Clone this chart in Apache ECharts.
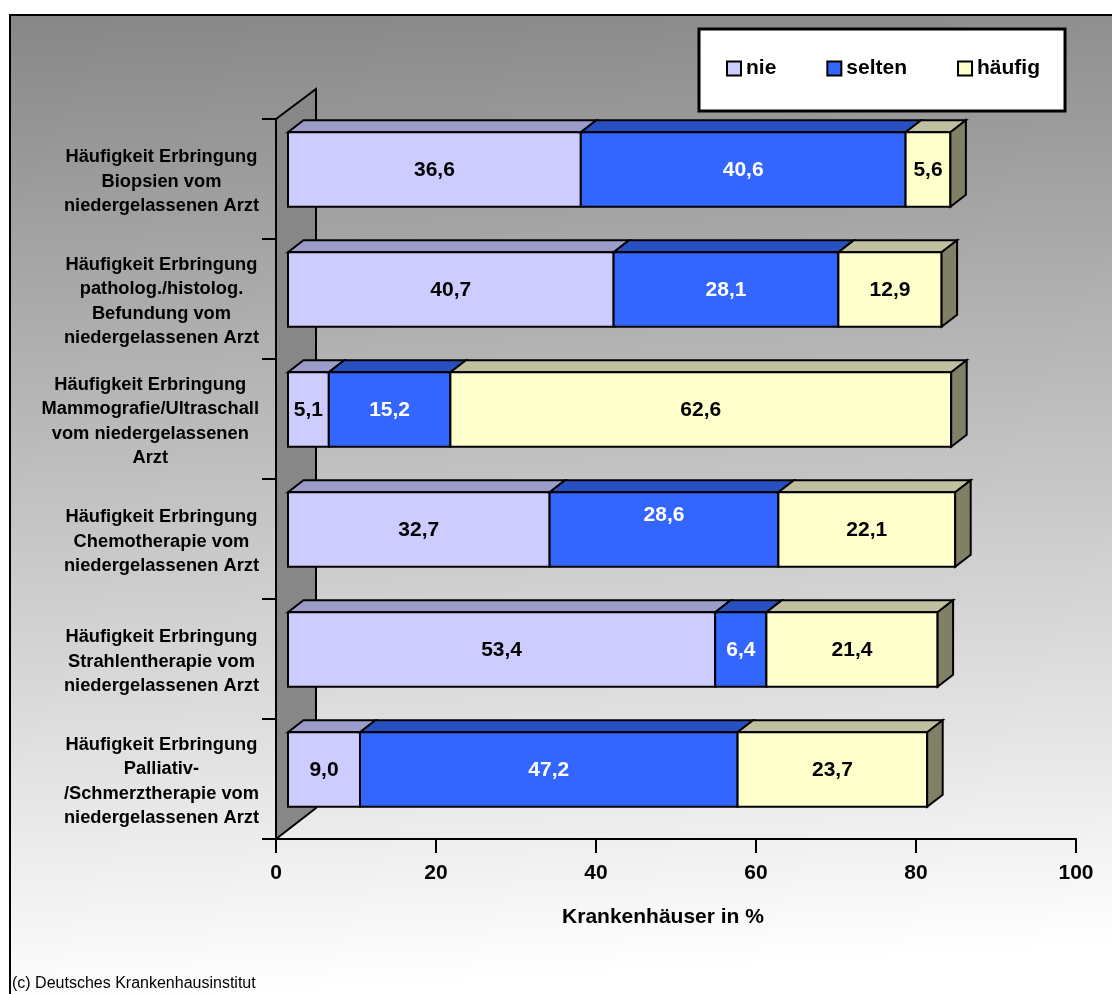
<!DOCTYPE html>
<html><head><meta charset="utf-8">
<script src="https://cdn.jsdelivr.net/npm/echarts@6/dist/echarts.min.js"></script>
<style>html,body{margin:0;padding:0;background:#fff;overflow:hidden}#c{width:1112px;height:994px}</style>
</head><body><div id="c"></div>
<script>
// ---- data ----
const categories = [
  'Häufigkeit Erbringung\nBiopsien vom\nniedergelassenen Arzt',
  'Häufigkeit Erbringung\npatholog./histolog.\nBefundung vom\nniedergelassenen Arzt',
  'Häufigkeit Erbringung\nMammografie/Ultraschall\nvom niedergelassenen\nArzt',
  'Häufigkeit Erbringung\nChemotherapie vom\nniedergelassenen Arzt',
  'Häufigkeit Erbringung\nStrahlentherapie vom\nniedergelassenen Arzt',
  'Häufigkeit Erbringung\nPalliativ-\n/Schmerztherapie vom\nniedergelassenen Arzt'
];
const seriesNames = ['nie', 'selten', 'häufig'];
const nie     = [36.6, 40.7, 5.1, 32.7, 53.4, 9.0];
const selten  = [40.6, 28.1, 15.2, 28.6, 6.4, 47.2];
const haeufig = [5.6, 12.9, 62.6, 22.1, 21.4, 23.7];
const xTickValues = [0, 20, 40, 60, 80, 100];
const axisTitle = 'Krankenhäuser in %';
const footer = '(c) Deutsches Krankenhausinstitut';

// ---- styling ----
const FONT = '"Liberation Sans", Arial, Helvetica, sans-serif';
const DX = 15.5, DY = -12;
const palette = [
  { front: '#CCCCFF', top: '#9C9CC8', side: '#666699', label: '#000000' },
  { front: '#3366FF', top: '#2850C0', side: '#1A3380', label: '#FFFFFF' },
  { front: '#FFFFCC', top: '#C0C0A0', side: '#808066', label: '#000000' }
];
const labelShift = { 1: { 3: -15 } }; // series index -> category index -> dy

const values = [nie, selten, haeufig];
function seriesData(k) {
  return values[k].map((v, i) => {
    let start = 0;
    for (let j = 0; j < k; j++) start += values[j][i];
    return [start, start + v, i, v];
  });
}

const Y_FONT = 'bold 18.3px ' + FONT;
const mctx = document.createElement('canvas').getContext('2d');
mctx.font = Y_FONT;

function barRender(k) {
  const col = palette[k];
  const isLast = k === values.length - 1;
  return function (params, api) {
    const s = api.value(0), e = api.value(1), c = api.value(2), v = api.value(3);
    const a = api.coord([s, c]), b = api.coord([e, c]);
    const bh = api.size([0, 1])[1] * 0.62;
    const yT = a[1] - bh / 2, yB = yT + bh;
    const x0 = a[0], x1 = b[0];
    const st = { stroke: '#000', lineWidth: 2, lineJoin: 'miter' };
    const children = [
      { type: 'polygon', shape: { points: [[x0, yT], [x0 + DX, yT + DY], [x1 + DX, yT + DY], [x1, yT]] },
        style: Object.assign({ fill: col.top }, st) },
      { type: 'rect', shape: { x: x0, y: yT, width: x1 - x0, height: bh },
        style: Object.assign({ fill: col.front }, st) }
    ];
    if (isLast) {
      children.push({ type: 'polygon', shape: { points: [[x1, yT], [x1 + DX, yT + DY], [x1 + DX, yB + DY], [x1, yB]] },
        style: Object.assign({ fill: col.side }, st) });
    }
    const sh = (labelShift[k] && labelShift[k][c]) || 0;
    children.push({ type: 'text', z2: 10, style: {
      text: v.toFixed(1).replace('.', ','), x: (x0 + x1) / 2, y: (yT + yB) / 2 + sh + 1,
      align: 'center', verticalAlign: 'middle', font: 'bold 21px ' + FONT, fill: col.label } });
    return { type: 'group', children };
  };
}

const chart = echarts.init(document.getElementById('c'));
const option = {
  animation: false,
  backgroundColor: 'transparent',
  graphic: { elements: [
    { type: 'rect', z: -100, silent: true, shape: { x: 10, y: 15, width: 1110, height: 990 },
      style: { fill: { type: 'linear', x: 0, y: 0, x2: 0.05, y2: 1, colorStops: [
        { offset: 0, color: '#878787' }, { offset: 1, color: '#ffffff' } ] },
        stroke: '#000', lineWidth: 2 } },
    { type: 'text', z: 10, silent: true, style: { text: footer, x: 12, y: 984, verticalAlign: 'middle',
      font: '16px ' + FONT, fill: '#000' } }
  ]},
  legend: {
    data: seriesNames, left: 699, top: 29, orient: 'horizontal', icon: 'rect',
    itemWidth: 14, itemHeight: 14, itemGap: 50, padding: [29, 25, 32, 27],
    backgroundColor: '#fff', borderColor: '#000', borderWidth: 3, selectedMode: false,
    itemStyle: { borderColor: '#000', borderWidth: 2 },
    textStyle: { fontFamily: FONT, fontSize: 21, fontWeight: 'bold', color: '#000' }
  },
  grid: [
    { left: 276, top: 119, width: 800, height: 720 },
    { left: 288, top: 109.5, width: 800, height: 720 }
  ],
  xAxis: [
    { gridIndex: 0, type: 'value', min: xTickValues[0], max: xTickValues[xTickValues.length - 1],
      interval: xTickValues[1] - xTickValues[0], z: 6,
      axisLine: { show: true, lineStyle: { color: '#000', width: 2 } },
      axisTick: { show: true, length: 14, lineStyle: { color: '#000', width: 2 } },
      axisLabel: { margin: 24, fontFamily: FONT, fontSize: 21, fontWeight: 'bold', color: '#000' },
      splitLine: { show: false },
      name: axisTitle, nameLocation: 'middle', nameGap: 68,
      nameTextStyle: { fontFamily: FONT, fontSize: 21, fontWeight: 'bold', color: '#000', padding: [0, 26, 0, 0] } },
    { gridIndex: 1, type: 'value', min: 0, max: 100, show: false }
  ],
  yAxis: [
    { gridIndex: 0, type: 'category', data: categories, inverse: true, z: 6,
      axisLine: { show: true, lineStyle: { color: '#000', width: 2 } },
      axisTick: { show: true, length: 14, lineStyle: { color: '#000', width: 2 } },
      axisLabel: { show: false }, splitLine: { show: false } },
    { gridIndex: 1, type: 'category', data: categories, inverse: true, show: false }
  ],
  series: [
    { type: 'custom', name: '_wall', xAxisIndex: 0, yAxisIndex: 0, silent: true, z: 1, clip: false,
      data: [[0, 0]],
      renderItem: function (params, api) {
        const cs = params.coordSys;
        const x = cs.x, y = cs.y, h = cs.height;
        return { type: 'polygon', shape: { points: [[x, y], [x + 40, y - 30], [x + 40, y + h - 31], [x, y + h]] },
          style: { fill: '#878787', stroke: '#000', lineWidth: 2 } };
      } },
    { type: 'custom', name: '_labels', xAxisIndex: 0, yAxisIndex: 0, silent: true, z: 5, clip: false,
      data: categories.map((c, i) => [0, i]),
      renderItem: function (params, api) {
        const i = api.value(1);
        const p = api.coord([0, i]);
        const lines = categories[i].split('\n');
        const w = Math.max.apply(null, lines.map(l => mctx.measureText(l).width));
        return { type: 'text', style: { text: categories[i], x: p[0] - 17 - w / 2, y: p[1] + 2.5,
          align: 'center', verticalAlign: 'middle', lineHeight: 24.5,
          font: Y_FONT, fill: '#000' } };
      } }
  ].concat(seriesNames.map((n, k) => ({
    type: 'custom', name: n, xAxisIndex: 1, yAxisIndex: 1, z: 5, clip: false,
    itemStyle: { color: palette[k].front, borderColor: '#000', borderWidth: 2 },
    encode: { x: [0, 1], y: 2 },
    data: seriesData(k),
    renderItem: barRender(k)
  })))
};
chart.setOption(option);
</script></body></html>
